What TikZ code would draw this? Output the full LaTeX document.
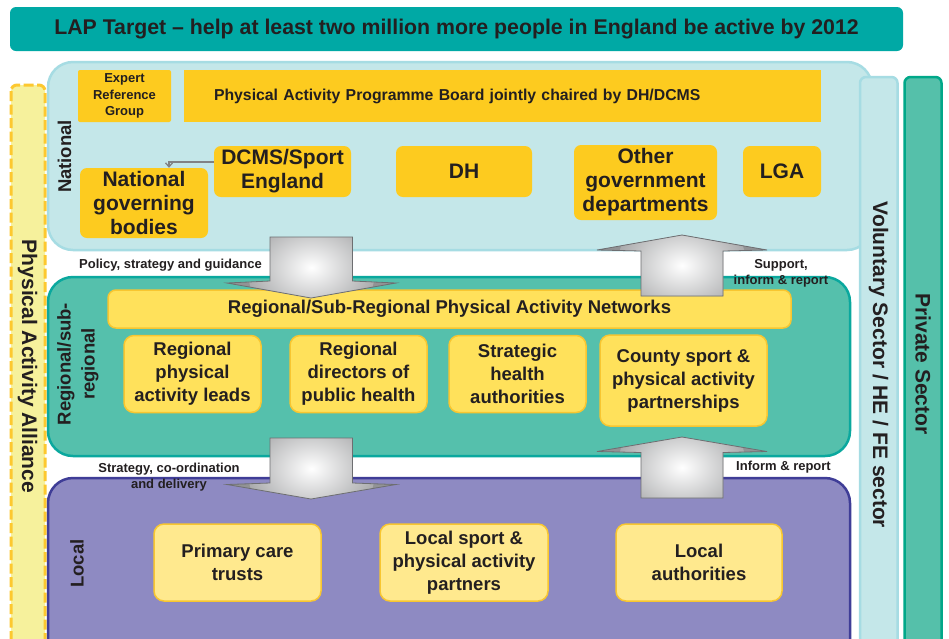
\documentclass[tikz,border=0pt]{standalone}
\usepackage{fontspec}
\setmainfont{Liberation Sans}
\usetikzlibrary{arrows.meta}
\definecolor{tealBanner}{RGB}{0,169,165}
\definecolor{natFill}{RGB}{196,231,233}
\definecolor{natLine}{RGB}{166,220,227}
\definecolor{natY}{RGB}{253,203,31}
\definecolor{regFill}{RGB}{85,192,172}
\definecolor{regLine}{RGB}{10,168,158}
\definecolor{regY}{RGB}{255,225,91}
\definecolor{regYLine}{RGB}{248,198,48}
\definecolor{locFill}{RGB}{142,138,194}
\definecolor{locLine}{RGB}{63,61,151}
\definecolor{locY}{RGB}{255,233,142}
\definecolor{priFill}{RGB}{85,192,170}
\definecolor{priLine}{RGB}{0,168,137}
\definecolor{allFill}{RGB}{246,241,156}
\definecolor{allLine}{RGB}{253,200,47}
\definecolor{txt}{RGB}{35,31,32}
\definecolor{arrowLine}{RGB}{109,110,113}
\definecolor{connGray}{RGB}{128,130,133}
\definecolor{agrayA}{RGB}{146,147,149}
\tikzset{
  natbox/.style={fill=natY, rounded corners=7pt, inner sep=0pt, align=center,
    text=txt, font=\bfseries\fontsize{21}{24}\selectfont},
  regbox/.style={fill=regY, draw=regYLine, line width=1.5pt, rounded corners=10pt,
    inner sep=0pt, align=center, text=txt, font=\bfseries\fontsize{18.5}{23}\selectfont},
  locbox/.style={regbox, fill=locY},
  band/.style={line width=2.5pt, rounded corners=25pt},
  sidebar/.style={line width=2.5pt, rounded corners=6pt},
  sidelabel/.style={text=txt, font=\bfseries\fontsize{21}{24}\selectfont, inner sep=0pt},
  levellabel/.style={text=txt, font=\bfseries\fontsize{18.5}{23}\selectfont, inner sep=0pt, align=center, rotate=90},
  smalllabel/.style={text=txt, font=\bfseries\fontsize{13}{16}\selectfont, inner sep=0pt, align=center},
  blockarrow/.style={draw=arrowLine, line width=0.8pt, fill=agrayA,
    path picture={\shade[inner color=white, outer color=agrayA]
      (path picture bounding box.center) circle (64pt);}},
  conn/.style={draw=connGray, line width=1.3pt, -{Straight Barb[length=4pt,width=7pt]}},
}
\begin{document}
\begin{tikzpicture}[x=1pt,y=-1pt]
\useasboundingbox (0,0) rectangle (949,638);
\clip (0,0) rectangle (949,638);
\fill[white] (0,0) rectangle (949,638);

% banner
\node[fill=tealBanner, rounded corners=6pt, minimum width=893pt, minimum height=44pt, inner sep=0pt,
  text=txt, font=\bfseries\fontsize{21.3}{24}\selectfont] (banner) at (456.5,29)
  {LAP Target -- help at least two million more people in England be active by 2012};

% side bars
\draw[allLine, fill=allFill, line width=3pt, dash pattern=on 10pt off 3.5pt, rounded corners=6pt]
  (11,85) rectangle (45,670);
\node[sidelabel, rotate=-90] (alliance) at (27.5,366.5) {Physical Activity Alliance};

% national band
\draw[band, natLine, fill=natFill] (48,62) rectangle (872,250);
\draw[sidebar, natLine, fill=natFill] (860,77) rectangle (897.5,680);
\draw[sidebar, priLine, fill=priFill] (904.5,77) rectangle (941.5,680);
\node[sidelabel, rotate=-90] (vol) at (878.5,365) {Voluntary Sector / HE / FE sector};
\node[sidelabel, rotate=-90] (priv) at (923,364) {Private Sector};

% regional and local bands
\draw[band, regLine, fill=regFill] (48,277) rectangle (850,456);
\draw[band, locLine, fill=locFill] (48,478) rectangle (850,680);

% level labels
\node[levellabel] (lnat) at (64.5,156.5) {National};
\node[levellabel, font=\bfseries\fontsize{18.5}{24}\selectfont] (lreg) at (78,364) {Regional/sub-\\regional};
\node[levellabel] (lloc) at (77,563.5) {Local};

% national boxes
\node[fill=natY, rounded corners=2pt, minimum width=93pt, minimum height=52pt, inner sep=0pt,
  align=center, text=txt, font=\bfseries\fontsize{13}{16.5}\selectfont] (erg) at (124.5,96)
  {Expert\\Reference\\Group};
\node[fill=natY, minimum width=637pt, minimum height=52pt, inner xsep=30pt, inner ysep=0pt,
  text width=577pt, align=left, text=txt, font=\bfseries\fontsize{15.8}{18}\selectfont] (papb) at (502.5,96)
  {Physical Activity Programme Board jointly chaired by DH/DCMS};
\node[natbox, minimum width=137pt, minimum height=51pt] (dcms) at (282.5,171.5) {DCMS/Sport\\England};
\node[natbox, minimum width=128pt, minimum height=70pt] (ngb) at (144,203) {National\\governing\\bodies};
\node[natbox, minimum width=136pt, minimum height=51pt] (dh) at (464,171.5) {DH};
\node[natbox, minimum width=143pt, minimum height=75pt] (ogd) at (645.5,182.5) {Other\\government\\departments};
\node[natbox, minimum width=78pt, minimum height=51pt] (lga) at (782,171.5) {LGA};
\draw[conn] ([yshift=9.5pt]dcms.west) -| ([xshift=25pt]ngb.north);

% regional boxes
\node[regbox, rounded corners=8pt, minimum width=683pt, minimum height=38pt] (net) at (449.5,309)
  {Regional/Sub-Regional Physical Activity Networks};
\node[regbox, minimum width=137pt, minimum height=77pt] (rpal) at (192.5,374) {Regional\\physical\\activity leads};
\node[regbox, minimum width=137pt, minimum height=77pt] (rdph) at (358.5,374) {Regional\\directors of\\public health};
\node[regbox, minimum width=137pt, minimum height=77pt] (sha) at (517.5,374) {Strategic\\health\\authorities};
\node[regbox, minimum width=167pt, minimum height=91pt] (csp) at (683.5,380.5) {County sport \&\\physical activity\\partnerships};

% local boxes
\node[locbox, minimum width=167pt, minimum height=77pt] (pct) at (237.5,562.5) {Primary care\\trusts};
\node[locbox, minimum width=168pt, minimum height=77pt] (lsp) at (464,562.5) {Local sport \&\\physical activity\\partners};
\node[locbox, minimum width=166pt, minimum height=77pt] (la) at (699,562.5) {Local\\authorities};

% block arrows
\path[blockarrow] (270,237) -- (352.5,237) -- (352.5,281) -- (396,283) -- (311,298)
  -- (227,283) -- (270,281) -- cycle;
\path[blockarrow] (641,296) -- (723,296) -- (723,251) -- (767,250) -- (682,235)
  -- (597,250) -- (641,251) -- cycle;
\path[blockarrow] (270,438) -- (352.5,438) -- (352.5,483) -- (396,484.5) -- (311,499)
  -- (227,484.5) -- (270,483) -- cycle;
\path[blockarrow] (641,498) -- (723,498) -- (723,452.5) -- (767,451.5) -- (682,437)
  -- (597,451.5) -- (641,452.5) -- cycle;

% arrow labels
\node[smalllabel] (lpol) at (170.5,265.5) {Policy, strategy and guidance};
\node[smalllabel] (lsup) at (781,273) {Support,\\inform \& report};
\node[smalllabel] (lstr) at (169,477.5) {Strategy, co-ordination\\and delivery};
\node[smalllabel] (linf) at (783.5,467) {Inform \& report};
\end{tikzpicture}
\end{document}
